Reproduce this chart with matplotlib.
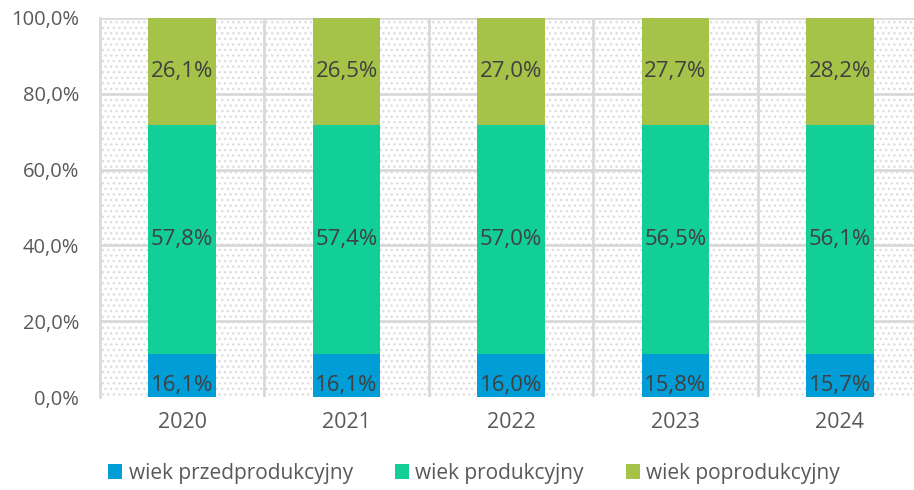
import matplotlib.pyplot as plt
import numpy as np

plt.rcParams['font.family'] = ['Open Sans', 'DejaVu Sans']

years = ["2020", "2021", "2022", "2023", "2024"]
# values printed in the labels
przed_labels = [16.1, 16.1, 16.0, 15.8, 15.7]
prod_labels = [57.8, 57.4, 57.0, 56.5, 56.1]
poprod_labels = [26.1, 26.5, 27.0, 27.7, 28.2]
# segment heights as drawn in the picture
przed_drawn = [11.3, 11.3, 11.3, 11.3, 11.3]
prod_drawn = [60.5, 60.5, 60.5, 60.5, 60.5]
poprod_drawn = [28.2, 28.2, 28.2, 28.2, 28.2]

names = ["wiek przedprodukcyjny", "wiek produkcyjny", "wiek poprodukcyjny"]
colors = ["#009DD6", "#12CF98", "#A5C249"]
textcol = "#404040"

fig = plt.figure(figsize=(9.14, 4.9), dpi=100)
ax = fig.add_axes([100/914, 1 - 397/490, 822/914, 379/490])
ax.patch.set_facecolor("white")
ax.patch.set_hatch("...")
ax.patch.set_edgecolor("#dddddd")
ax.patch.set_linewidth(0)

x = np.arange(len(years))
bottom = np.zeros(len(years))
drawn = [przed_drawn, prod_drawn, poprod_drawn]
labels = [przed_labels, prod_labels, poprod_labels]
for i in range(3):
    h = np.array(drawn[i])
    ax.bar(x, h, 0.41, bottom=bottom, color=colors[i], label=names[i], zorder=3)
    for j in range(len(years)):
        if i == 0:
            yy = bottom[j] + h[j] * 0.27
        else:
            yy = bottom[j] + h[j] / 2
        ax.text(x[j], yy, ("%.1f%%" % labels[i][j]).replace(".", ","),
                ha="center", va="center", fontsize=16, color=textcol, zorder=4)
    bottom += h

ax.set_xlim(-0.5, 4.5)
ax.set_ylim(0, 100)
ax.set_yticks(np.arange(0, 101, 20))
ax.set_yticklabels([("%.1f%%" % v).replace(".", ",") for v in range(0, 101, 20)])
ax.set_xticks(x)
ax.set_xticklabels(years)
for v in range(20, 101, 20):
    ax.axhline(v, color="#d9d9d9", lw=2, zorder=1)
for v in np.arange(0.5, 4, 1):
    ax.axvline(v, color="#d9d9d9", lw=2, zorder=1)
for s in ["top", "right", "bottom"]:
    ax.spines[s].set_visible(False)
ax.spines["left"].set_color("#d9d9d9")
ax.spines["left"].set_linewidth(2)
ax.tick_params(length=0, labelcolor="#595959")
ax.tick_params(axis="y", pad=15, labelsize=14.5)
ax.tick_params(axis="x", pad=11, labelsize=15.5)

leg = fig.legend(loc="center", bbox_to_anchor=(474/914, 1 - 473/490), ncol=3,
                 frameon=False, fontsize=15, handlelength=0.7, handleheight=0.7,
                 handletextpad=0.3, columnspacing=2.0, labelcolor="#595959")

fig.savefig("out.png", dpi=100)
